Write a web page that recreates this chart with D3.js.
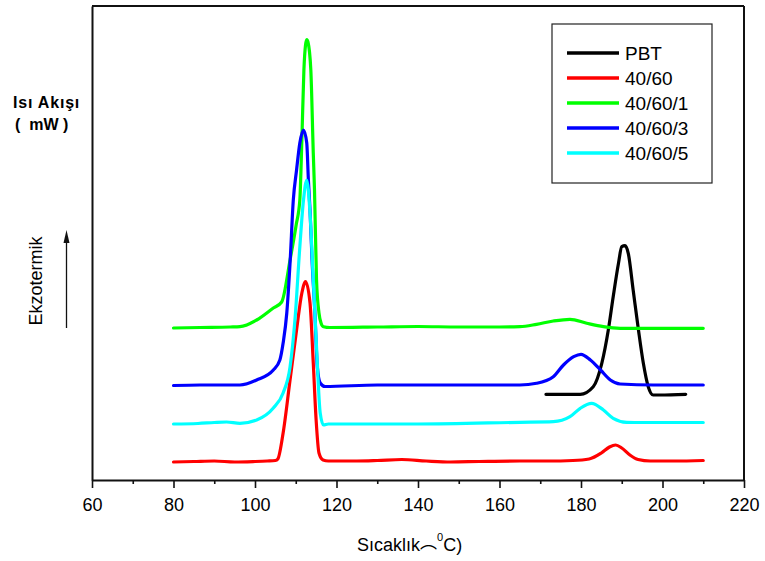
<!DOCTYPE html>
<html>
<head>
<meta charset="utf-8">
<script src="https://cdn.jsdelivr.net/npm/d3@7"></script>
<style>
  body { margin: 0; background: #fff; }
  svg { display: block; }
  text { font-family: "Liberation Sans", Arial, sans-serif; fill: #000; }
</style>
</head>
<body>
<div id="chart"></div>
<script>
// ---------- DATA ----------
const xTicks = [60, 80, 100, 120, 140, 160, 180, 200, 220];
const xMinorTicks = [70, 90, 110, 130, 150, 170, 190, 210];
const seriesNames = ["PBT", "40/60", "40/60/1", "40/60/3", "40/60/5"];
const seriesColors = ["#000000", "#ff0000", "#00ff00", "#0000ff", "#00ffff"];

const tempPBT = [171.4, 179.8, 183.0, 185.1, 186.7, 187.9, 189.2, 190.0, 190.8, 191.6, 192.8, 194.1, 195.3, 196.5, 197.7, 199.4, 205.7];
const flowPBT = [8.57, 8.57, 9.33, 11.67, 15.0, 18.33, 21.67, 23.33, 23.43, 22.67, 19.0, 15.0, 11.67, 9.33, 8.5, 8.5, 8.57];

const temp4060 = [80, 85, 90, 95, 100, 103, 105, 105.6, 106.9, 108.6, 110.2, 111.5, 112.4, 113.5, 114.3, 115.0, 115.7, 116.7, 118, 125, 130, 136, 142, 148, 155, 165, 172, 178, 182, 185, 187, 188.5, 190, 192, 194, 197, 203, 210];
const flow4060 = [1.8, 1.85, 1.9, 1.8, 1.85, 1.9, 1.95, 2.1, 4.7, 10.0, 15.0, 18.7, 19.85, 17.7, 11.7, 6.0, 2.7, 2.0, 1.9, 1.9, 1.95, 2.05, 1.9, 1.8, 1.85, 1.9, 1.9, 1.95, 2.1, 2.7, 3.3, 3.5, 3.2, 2.5, 2.05, 1.9, 1.9, 1.95];

const temp40601 = [80, 86.5, 93.9, 96.3, 100.4, 104.5, 106.55, 108.6, 110.1, 111.0, 111.5, 112.0, 112.4, 112.7, 113.0, 113.7, 114.3, 114.6, 115.1, 115.7, 116.2, 116.8, 118.4, 130, 140, 150, 160, 165, 169.1, 173.2, 177.3, 181.4, 185.5, 189.6, 197.7, 210];
const flow40601 = [15.2, 15.25, 15.3, 15.33, 16.0, 17.2, 17.8, 22.0, 25.5, 28.0, 34.0, 41.0, 43.5, 44.05, 43.8, 41.0, 32.7, 29.0, 20.0, 16.7, 15.7, 15.33, 15.25, 15.3, 15.35, 15.3, 15.3, 15.33, 15.57, 15.9, 16.07, 15.67, 15.33, 15.17, 15.17, 15.17];

const temp40603 = [80, 86.5, 96.3, 100.4, 104.5, 106.1, 106.9, 107.8, 108.6, 109.4, 110.2, 111.0, 111.9, 112.7, 113.1, 113.5, 114.0, 114.7, 115.3, 116.0, 117.2, 130, 150, 165, 169.1, 173.2, 175.7, 178.2, 180.0, 182.3, 184.8, 187.2, 189.6, 197.8, 210];
const flow40603 = [9.45, 9.5, 9.5, 10.0, 11.0, 12.0, 13.7, 16.7, 21.7, 28.0, 31.0, 33.7, 35.0, 33.7, 30.0, 27.0, 22.0, 16.7, 11.3, 9.7, 9.35, 9.5, 9.5, 9.5, 9.67, 10.33, 11.5, 12.33, 12.57, 12.0, 11.0, 10.0, 9.6, 9.5, 9.5];

const temp40605 = [80, 86, 90, 93, 96.3, 100.4, 104.5, 106.9, 108.6, 109.8, 111.0, 111.9, 112.7, 113.5, 114.3, 115.1, 116.0, 116.8, 118, 140, 165, 173.2, 177.3, 179.8, 182.6, 185.5, 187.9, 191.2, 195, 210];
const flow40605 = [5.6, 5.65, 5.75, 5.8, 5.67, 6.0, 7.2, 8.7, 11.3, 16.0, 23.3, 28.0, 30.0, 26.7, 20.0, 13.3, 6.7, 5.5, 5.6, 5.6, 5.77, 5.83, 6.33, 7.17, 7.67, 7.0, 6.17, 5.77, 5.75, 5.75];

const seriesTemps = [tempPBT, temp4060, temp40601, temp40603, temp40605];
const seriesFlows = [flowPBT, flow4060, flow40601, flow40603, flow40605];

// ---------- CHART ----------
const W = 765, H = 561;
const pLeft = 92, pRight = 744, pTop = 6, pBottom = 480;

const svg = d3.select("#chart").append("svg").attr("width", W).attr("height", H);

const x = d3.scaleLinear().domain([60, 220]).range([pLeft, pRight]);
const y = d3.scaleLinear().domain([0, 47.4]).range([pBottom, pTop]);

// curves
const line = d3.line().x(d => x(d[0])).y(d => y(d[1])).curve(d3.curveMonotoneX);
const series = seriesNames.map((name, i) => ({
  name, color: seriesColors[i],
  points: seriesTemps[i].map((t, j) => [t, seriesFlows[i][j]])
}));

svg.append("g").selectAll("path").data(series).join("path")
  .attr("d", d => line(d.points))
  .attr("fill", "none")
  .attr("stroke", d => d.color)
  .attr("stroke-width", 3.2)
  .attr("stroke-linejoin", "round")
  .attr("stroke-linecap", "round");

// frame: top and right
svg.append("line").attr("x1", pLeft).attr("x2", pRight).attr("y1", pTop).attr("y2", pTop)
  .attr("stroke", "#111").attr("stroke-width", 2);
svg.append("line").attr("x1", pRight).attr("x2", pRight).attr("y1", pTop).attr("y2", pBottom)
  .attr("stroke", "#111").attr("stroke-width", 2);

// left axis (no ticks)
const gy = svg.append("g").attr("transform", `translate(${pLeft},0)`)
  .call(d3.axisLeft(y).tickValues([]).tickSizeOuter(0));
gy.select(".domain").attr("stroke", "#111").attr("stroke-width", 2);

// bottom axis
const gx = svg.append("g").attr("transform", `translate(0,${pBottom})`)
  .call(d3.axisBottom(x).tickValues(xTicks).tickSize(8).tickSizeOuter(0).tickPadding(10).tickFormat(d3.format("d")));
gx.select(".domain").attr("stroke", "#111").attr("stroke-width", 2);
gx.selectAll(".tick line").attr("stroke", "#111").attr("stroke-width", 1.6);
gx.selectAll(".tick text").attr("font-size", 18).attr("font-family", "Liberation Sans, Arial, sans-serif").attr("fill", "#000");

const gxm = svg.append("g").attr("transform", `translate(0,${pBottom})`)
  .call(d3.axisBottom(x).tickValues(xMinorTicks).tickSize(4).tickSizeOuter(0).tickFormat(""));
gxm.select(".domain").remove();
gxm.selectAll(".tick line").attr("stroke", "#111").attr("stroke-width", 1.6);

// x title
const xt = svg.append("text").attr("x", 357).attr("y", 551).attr("font-size", 18);
xt.append("tspan").text("Sıcaklık");
xt.append("tspan").attr("font-family", "Noto Sans CJK SC").attr("font-size", 17).attr("dy", -3).text("︵");
xt.append("tspan").attr("font-size", 11).attr("dy", -7).text("0");
xt.append("tspan").attr("dy", 10).text("C)");

// y title
svg.append("text").attr("x", 13).attr("y", 108).attr("font-size", 16).attr("font-weight", "bold")
  .attr("letter-spacing", 0.8).text("Isı Akışı");
svg.append("text").attr("x", 15).attr("y", 130).attr("font-size", 16).attr("font-weight", "bold")
  .style("white-space", "pre").text("(  mW )");

svg.append("text").attr("transform", "translate(42,281) rotate(-90)")
  .attr("text-anchor", "middle").attr("font-size", 18).text("Ekzotermik");

// arrow
svg.append("line").attr("x1", 66.5).attr("x2", 66.5).attr("y1", 328).attr("y2", 240)
  .attr("stroke", "#111").attr("stroke-width", 1.3);
svg.append("path").attr("d", "M66.5,230 L63.5,243 L69.5,243 Z").attr("fill", "#111");

// legend
const lg = svg.append("g");
lg.append("rect").attr("x", 552).attr("y", 24).attr("width", 160).attr("height", 159)
  .attr("fill", "#fff").attr("stroke", "#222").attr("stroke-width", 1.2);
const rows = lg.selectAll("g.row").data(series).join("g").attr("class", "row")
  .attr("transform", (d, i) => `translate(0,${53 + i * 25})`);
rows.append("line").attr("x1", 567).attr("x2", 619).attr("y1", 0).attr("y2", 0)
  .attr("stroke", d => d.color).attr("stroke-width", 3.5);
rows.append("text").attr("x", 625).attr("y", 0).attr("dy", "0.36em").attr("font-size", 19).text(d => d.name);
</script>
</body>
</html>
